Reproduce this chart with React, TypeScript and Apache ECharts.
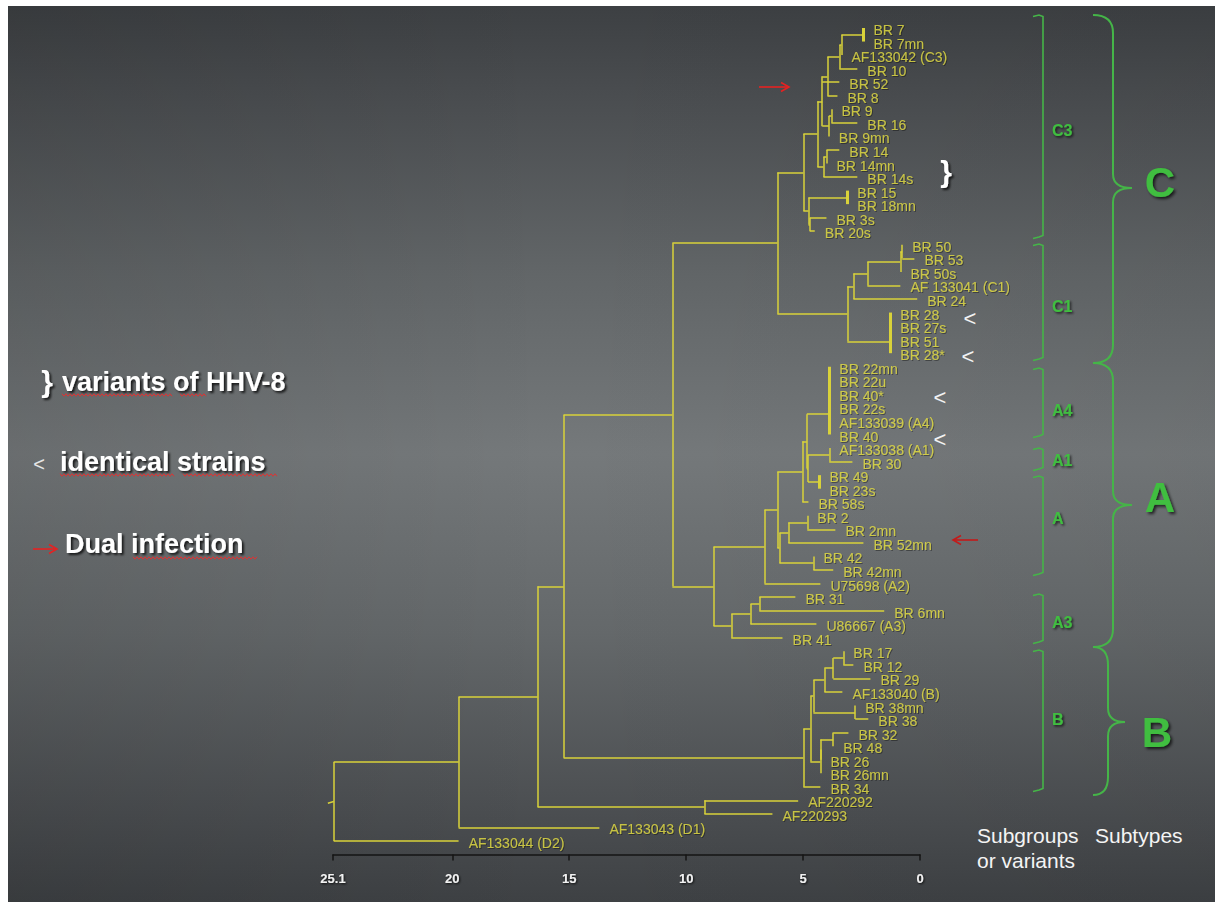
import React, { useEffect, useRef } from "react";
import * as echarts from "echarts";

const FONT = '"Liberation Sans", Arial, Helvetica, sans-serif';

// Leaves, top to bottom
const leafNames = ["BR 7","BR 7mn","AF133042 (C3)","BR 10","BR 52","BR 8","BR 9","BR 16","BR 9mn","BR 14","BR 14mn","BR 14s","BR 15","BR 18mn","BR 3s","BR 20s","BR 50","BR 53","BR 50s","AF 133041 (C1)","BR 24","BR 28","BR 27s","BR 51","BR 28*","BR 22mn","BR 22u","BR 40*","BR 22s","AF133039 (A4)","BR 40","AF133038 (A1)","BR 30","BR 49","BR 23s","BR 58s","BR 2","BR 2mn","BR 52mn","BR 42","BR 42mn","U75698 (A2)","BR 31","BR 6mn","U86667 (A3)","BR 41","BR 17","BR 12","BR 29","AF133040 (B)","BR 38mn","BR 38","BR 32","BR 48","BR 26","BR 26mn","BR 34","AF220292","AF220293","AF133043 (D1)","AF133044 (D2)"];

// Distance value at which each leaf branch ends
const leafTips = [2.42,2.42,3.36,2.68,3.45,3.53,3.79,2.68,3.90,3.45,4.00,2.68,3.11,3.11,4.00,4.50,0.76,0.24,0.84,0.84,0.12,1.27,1.27,1.27,1.27,3.88,3.88,3.88,3.88,3.88,3.88,3.88,2.89,4.30,4.30,4.77,4.82,3.62,2.42,4.56,3.71,4.26,5.33,1.53,4.43,5.88,3.28,2.85,2.12,3.32,2.77,2.21,3.06,3.71,4.26,4.26,4.26,5.21,6.31,13.71,19.73];

// Internal nodes
const nodeNames = ["n7","nA","nB","nC","n9a","n9","nD","n14a","n14","nE","n15","n3","nG","nC3","n50a","n50b","n50c","n24","n28a","n28b","n28c","nC1","nCC","nA4a","nA4b","nA1","n49","nA1b","nA4g","nA4h","n2","n2b","n42","n2c","nA6","nAA","n31","n31b","nA3","nAr","nAC","n17","n17b","n17c","n38","nB1","n32","n26a","n26b","nB2","nBr","nY","nZ","nX1","nX","root"];
const nodeHeights = [2.42,3.36,3.45,3.96,3.79,3.90,4.18,4.00,4.13,4.39,3.11,4.71,4.77,4.99,0.76,0.84,2.25,2.85,1.27,1.27,1.27,3.11,6.10,3.88,3.88,3.88,4.30,4.79,4.84,5.03,4.82,5.63,4.56,6.01,6.10,6.65,6.87,7.25,8.07,8.83,10.59,3.28,3.71,4.09,2.77,4.56,3.71,4.26,4.26,4.69,4.99,15.24,9.22,16.35,19.73,25.07];
const nodeKids = [
  ["BR 7","BR 7mn"],
  ["n7","AF133042 (C3)"],
  ["nA","BR 10"],
  ["nB","BR 8"],
  ["BR 9","BR 16"],
  ["n9a","BR 9mn"],
  ["nC","BR 52","n9"],
  ["BR 14","BR 14mn"],
  ["n14a","BR 14s"],
  ["nD","n14"],
  ["BR 15","BR 18mn"],
  ["BR 3s","BR 20s"],
  ["n15","n3"],
  ["nE","nG"],
  ["BR 50","BR 53"],
  ["n50a","BR 50s"],
  ["n50b","AF 133041 (C1)"],
  ["n50c","BR 24"],
  ["BR 28","BR 27s"],
  ["n28a","BR 51"],
  ["n28b","BR 28*"],
  ["n24","n28c"],
  ["nC3","nC1"],
  ["BR 22mn","BR 22u","BR 40*","BR 22s","AF133039 (A4)"],
  ["nA4a","BR 40"],
  ["AF133038 (A1)","BR 30"],
  ["BR 49","BR 23s"],
  ["nA1","n49"],
  ["nA4b","nA1b"],
  ["nA4g","BR 58s"],
  ["BR 2","BR 2mn"],
  ["n2","BR 52mn"],
  ["BR 42","BR 42mn"],
  ["n2b","n42"],
  ["nA4h","n2c"],
  ["nA6","U75698 (A2)"],
  ["BR 31","BR 6mn"],
  ["n31","U86667 (A3)"],
  ["n31b","BR 41"],
  ["nAA","nA3"],
  ["nCC","nAr"],
  ["BR 17","BR 12"],
  ["n17","BR 29"],
  ["n17b","AF133040 (B)"],
  ["BR 38mn","BR 38"],
  ["n17c","n38"],
  ["BR 32","BR 48"],
  ["n32","BR 26"],
  ["n26a","BR 26mn"],
  ["nB1","n26b"],
  ["nB2","BR 34"],
  ["nAC","nBr"],
  ["AF220292","AF220293"],
  ["nY","nZ"],
  ["nX1","AF133043 (D1)"],
  ["nX","AF133044 (D2)"],
];

const axisMin = 0;
const axisMax = 25.1;
const axisTickValues = [0, 5, 10, 15, 20, 25.1];

const YELLOW_LINE = "#d9d23a";
const YELLOW_TEXT = "#e6e042";
const GREEN = "#45b548";
const GREEN_TEXT = "#3fbe3f";

type Info = { h: number; y: number; zero: boolean };

function buildTree() {
  const leafIdx = new Map<string, number>();
  leafNames.forEach((n, i) => leafIdx.set(n, i));
  const nodeIdx = new Map<string, number>();
  nodeNames.forEach((n, i) => nodeIdx.set(n, i));
  const memo = new Map<string, Info>();
  const thin: any[] = [];
  const thick: any[] = [];
  const get = (name: string): Info => {
    if (memo.has(name)) return memo.get(name)!;
    let res: Info;
    if (leafIdx.has(name)) {
      const i = leafIdx.get(name)!;
      res = { h: leafTips[i], y: i, zero: true };
    } else {
      const k = nodeIdx.get(name)!;
      const h = nodeHeights[k];
      const kids = nodeKids[k].map(get);
      const ys = kids.map((c) => c.y);
      const y = (kids[0].y + kids[kids.length - 1].y) / 2;
      const allZero = kids.every((c) => Math.abs(c.h - h) < 1e-9 && c.zero);
      const seg = { coords: [[h, Math.min(...ys)], [h, Math.max(...ys)]] };
      (allZero ? thick : thin).push(seg);
      kids.forEach((c) => {
        if (Math.abs(c.h - h) > 1e-9) thin.push({ coords: [[h, c.y], [c.h, c.y]] });
      });
      res = { h, y, zero: allZero };
    }
    memo.set(name, res);
    return res;
  };
  const r = get("root");
  thin.push({ coords: [[r.h, r.y], [r.h + 0.25, r.y + 0.12]] });
  return { thin, thick };
}

function squiggle(x0: number, x1: number, y: number) {
  const pts: number[][] = [];
  let up = true;
  for (let x = x0; x <= x1; x += 2) {
    pts.push([x, y + (up ? -1.2 : 1.2)]);
    up = !up;
  }
  return { type: "polyline", silent: true, shape: { points: pts }, style: { stroke: "#e03232", lineWidth: 1, fill: null } };
}

function brace(xt: number, xs: number, xp: number, y0: number, ym: number, y1: number) {
  const st = { stroke: GREEN, lineWidth: 2, fill: null };
  const r = 18;
  const rm = 14;
  return [
    { type: "bezierCurve", silent: true, shape: { x1: xt, y1: y0, x2: xs, y2: y0 + r, cpx1: xs, cpy1: y0 }, style: st },
    { type: "line", silent: true, shape: { x1: xs, y1: y0 + r, x2: xs, y2: ym - rm }, style: st },
    { type: "bezierCurve", silent: true, shape: { x1: xs, y1: ym - rm, x2: xp, y2: ym, cpx1: xs, cpy1: ym }, style: st },
    { type: "bezierCurve", silent: true, shape: { x1: xp, y1: ym, x2: xs, y2: ym + rm, cpx1: xs, cpy1: ym }, style: st },
    { type: "line", silent: true, shape: { x1: xs, y1: ym + rm, x2: xs, y2: y1 - r }, style: st },
    { type: "bezierCurve", silent: true, shape: { x1: xs, y1: y1 - r, x2: xt, y2: y1, cpx1: xs, cpy1: y1 }, style: st },
  ];
}

function bracket(top: number, bottom: number, label: string, ly: number) {
  const x = 1043;
  return [
    {
      type: "polyline", silent: true,
      shape: { points: [[1033, top + 1.5], [1039, top], [1043, top + 1.5], [x, bottom - 1.5], [1039, bottom], [1033, bottom + 1.5]] },
      style: { stroke: GREEN, lineWidth: 1.6, fill: null },
    },
    {
      type: "text", silent: true, x: 1052, y: ly,
      style: {
        text: label, fill: GREEN_TEXT, font: `bold 16px ${FONT}`, align: "left", verticalAlign: "middle",
        textShadowColor: "rgba(0,0,0,0.7)", textShadowBlur: 2, textShadowOffsetX: 1.5, textShadowOffsetY: 1.5,
      },
    },
  ];
}

function arrow(x0: number, x1: number, y: number, dir: number, color: string) {
  const head = dir > 0 ? x1 : x0;
  const back = head - dir * 8;
  const st = { stroke: color, lineWidth: 1.6, fill: null };
  return [
    { type: "polyline", silent: true, shape: { points: [[x0, y], [x1, y]] }, style: st },
    { type: "polyline", silent: true, shape: { points: [[back, y - 4.5], [head, y], [back, y + 4.5]] }, style: st },
  ];
}

function whiteText(text: string, x: number, y: number, font: string, align = "left") {
  return {
    type: "text", silent: true, x, y,
    style: {
      text, fill: "#ffffff", font, align, verticalAlign: "middle",
      textShadowColor: "rgba(0,0,0,0.75)", textShadowBlur: 2, textShadowOffsetX: 2, textShadowOffsetY: 2,
    },
  };
}

function plainText(text: string, x: number, y: number, font: string, fill: string, align = "left") {
  return { type: "text", silent: true, x, y, style: { text, fill, font, align, verticalAlign: "middle" } };
}

function bigLetter(text: string, x: number, y: number) {
  return {
    type: "text", silent: true, x, y,
    style: {
      text, fill: GREEN_TEXT, font: `bold 42px ${FONT}`, align: "center", verticalAlign: "middle",
      textShadowColor: "rgba(0,0,0,0.7)", textShadowBlur: 3, textShadowOffsetX: 2, textShadowOffsetY: 2,
    },
  };
}

export default function App() {
  const ref = useRef<HTMLDivElement>(null);
  useEffect(() => {
    if (!ref.current) return;
    const chart = echarts.init(ref.current, null, { renderer: "svg" });
    const { thin, thick } = buildTree();

    const graphics: any[] = [
      {
        type: "rect", silent: true, z: -20,
        shape: { x: 8, y: 6, width: 1207, height: 896 },
        style: {
          fill: new echarts.graphic.LinearGradient(0, 0, 0, 1, [
            { offset: 0, color: "#3d4043" },
            { offset: 0.1, color: "#4a4d50" },
            { offset: 0.3, color: "#626668" },
            { offset: 0.5, color: "#75797b" },
            { offset: 0.7, color: "#64686a" },
            { offset: 0.9, color: "#4b4e51" },
            { offset: 1, color: "#3e4144" },
          ]),
        },
      },
      {
        type: "rect", silent: true, z: -19,
        shape: { x: 8, y: 6, width: 1207, height: 896 },
        style: {
          fill: new echarts.graphic.LinearGradient(0, 0, 1, 0, [
            { offset: 0, color: "rgba(0,0,0,0.10)" },
            { offset: 0.45, color: "rgba(0,0,0,0)" },
            { offset: 1, color: "rgba(0,0,0,0.05)" },
          ]),
        },
      },
      // subgroup brackets
      ...bracket(15, 237, "C3", 130),
      ...bracket(244, 359, "C1", 306),
      ...bracket(368, 436, "A4", 410),
      ...bracket(448, 469, "A1", 460),
      ...bracket(476, 574, "A", 518),
      ...bracket(594, 642, "A3", 622),
      ...bracket(650, 790, "B", 719),
      // subtype braces
      ...brace(1093, 1113, 1132, 15, 188, 363),
      ...brace(1093, 1113, 1132, 363, 505, 647),
      ...brace(1093, 1108, 1125, 647, 722, 795),
      bigLetter("C", 1160, 182),
      bigLetter("A", 1160, 497),
      bigLetter("B", 1157, 732),
      // footer labels
      plainText("Subgroups", 977, 835, `21px ${FONT}`, "#f4f4f4"),
      plainText("or variants", 977, 860, `21px ${FONT}`, "#f4f4f4"),
      plainText("Subtypes", 1095, 835, `21px ${FONT}`, "#f4f4f4"),
      // marks on the tree
      ...arrow(759, 789, 87, 1, "#e52222"),
      ...arrow(953, 978, 540, -1, "#c41a1a"),
      whiteText("}", 946, 171, `bold 30px ${FONT}`, "center"),
      plainText("<", 970, 318, `22px ${FONT}`, "#f2f2f2", "center"),
      plainText("<", 968, 356, `22px ${FONT}`, "#f2f2f2", "center"),
      plainText("<", 940, 397, `22px ${FONT}`, "#f2f2f2", "center"),
      plainText("<", 940, 439, `22px ${FONT}`, "#f2f2f2", "center"),
      // legend
      whiteText("}", 47, 381, `bold 30px ${FONT}`, "center"),
      whiteText("variants of HHV-8", 62, 382, `bold 27px ${FONT}`),
      squiggle(62, 173, 395),
      squiggle(180, 207, 395),
      plainText("<", 39, 464, `20px ${FONT}`, "#e6e6e6", "center"),
      whiteText("identical strains", 60, 462, `bold 27px ${FONT}`),
      squiggle(60, 175, 475),
      squiggle(183, 277, 475),
      ...arrow(33, 57, 549, 1, "#e52222"),
      whiteText("Dual infection", 65, 544, `bold 27px ${FONT}`),
      squiggle(133, 257, 558),
    ];

    const option: any = {
      animation: false,
      grid: { left: 333, right: 295, top: 28, bottom: 47.45, containLabel: false },
      xAxis: {
        type: "value",
        inverse: true,
        min: axisMin,
        max: axisMax,
        position: "bottom",
        splitLine: { show: false },
        axisLine: { show: true, onZero: false, lineStyle: { color: "#151515", width: 1.5 } },
        axisTick: { show: true, length: 6, customValues: axisTickValues, lineStyle: { color: "#151515", width: 1.5 } },
        axisLabel: {
          customValues: axisTickValues,
          color: "#f2f2f2", fontSize: 13, fontWeight: "bold", fontFamily: FONT, margin: 17,
          formatter: (v: number) => String(Math.round(v * 10) / 10),
          textShadowColor: "rgba(0,0,0,0.8)", textShadowBlur: 2, textShadowOffsetX: 1, textShadowOffsetY: 1,
        },
      },
      yAxis: { type: "value", inverse: true, min: 0, max: 61, show: false },
      graphic: { elements: graphics },
      series: [
        {
          type: "lines",
          coordinateSystem: "cartesian2d",
          silent: true,
          clip: false,
          lineStyle: { color: YELLOW_LINE, width: 1.5, opacity: 1, curveness: 0 },
          data: thin,
        },
        {
          type: "lines",
          coordinateSystem: "cartesian2d",
          silent: true,
          clip: false,
          lineStyle: { color: YELLOW_LINE, width: 3, opacity: 1, curveness: 0 },
          data: thick,
        },
        {
          type: "scatter",
          silent: true,
          symbolSize: 0.1,
          itemStyle: { color: "rgba(0,0,0,0)" },
          data: leafTips.map((t, i) => [t, i]),
          label: {
            show: true,
            position: "right",
            distance: 10,
            offset: [0, 2],
            formatter: (p: any) => leafNames[p.dataIndex],
            color: YELLOW_TEXT,
            fontSize: 14,
            lineHeight: 12,
            fontFamily: FONT,
            textShadowColor: "rgba(0,0,0,0.45)",
            textShadowBlur: 1,
            textShadowOffsetX: 1,
            textShadowOffsetY: 1,
          },
        },
      ],
    };
    chart.setOption(option);
    return () => chart.dispose();
  }, []);
  return (
    <div
      ref={ref}
      style={{ position: "fixed", left: 0, top: 0, width: 1215, height: 902, background: "#ffffff" }}
    />
  );
}
